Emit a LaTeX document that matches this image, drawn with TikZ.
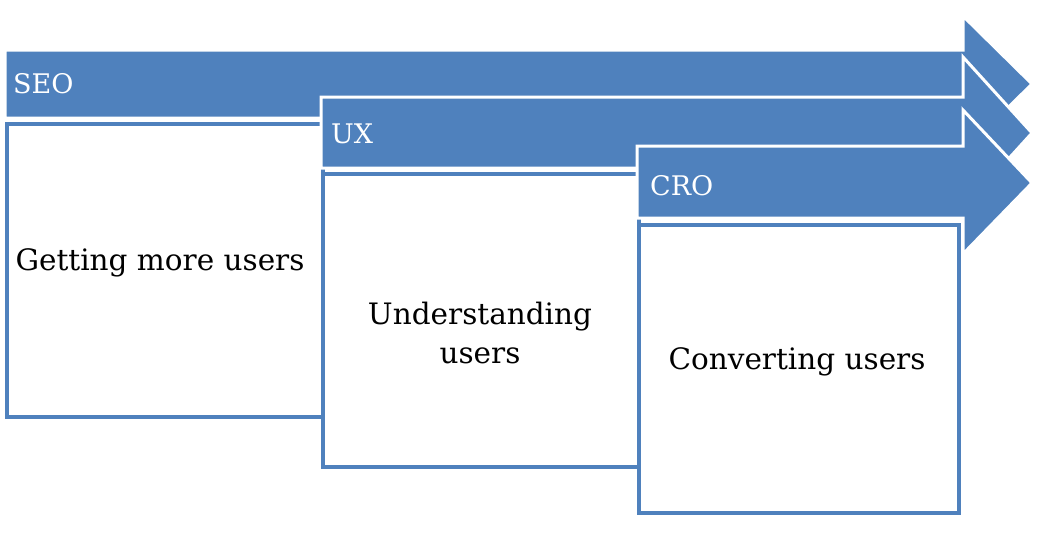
\documentclass[tikz,border=0pt]{standalone}
\usepackage{fontspec}
\setmainfont{DejaVu Serif}
\definecolor{ofblue}{HTML}{4F81BD}
\begin{document}
\begin{tikzpicture}[x=1pt,y=-1pt,
  arrowshape/.style={fill=ofblue,draw=white,line width=3pt,line join=miter},
  listbox/.style={draw=ofblue,line width=3.5pt,fill=white,anchor=north west,inner sep=0pt},
  armlabel/.style={text=white,anchor=base west,font=\fontsize{27}{30}\selectfont,inner sep=0pt},
  boxtext/.style={text=black,font=\fontsize{29.5}{39}\selectfont,align=center,inner sep=0pt}]
\useasboundingbox (0,0) rectangle (1054,552);
\fill[white] (0,0) rectangle (1054,552);
% SEO
\draw[arrowshape] (5,50) -- (963,50) -- (963,16) -- (1032,84) -- (963,152) -- (963,118) -- (5,118) -- cycle;
\node[armlabel] (seo) at (13,93) {SEO};
\node[listbox,minimum width=316pt,minimum height=293pt] (seobox) at (5,122) {};
\node[boxtext] (seotext) at (160,263) {Getting more users};
% UX
\draw[arrowshape] (321,97) -- (963,97) -- (963,57) -- (1032,133) -- (963,209) -- (963,168) -- (321,168) -- cycle;
\node[armlabel] (ux) at (331,143) {UX};
\node[listbox,minimum width=316pt,minimum height=293pt] (uxbox) at (321,172) {};
\node[boxtext] (uxtext) at (480,333) {Understanding\\users};
% CRO
\draw[arrowshape] (637,146) -- (963,146) -- (963,110) -- (1032,183) -- (963,254) -- (963,218) -- (637,218) -- cycle;
\node[armlabel] (cro) at (650,195) {CRO};
\node[listbox,minimum width=320pt,minimum height=288pt] (crobox) at (637,223) {};
\node[boxtext] (crotext) at (797,362) {Converting users};
\end{tikzpicture}
\end{document}
